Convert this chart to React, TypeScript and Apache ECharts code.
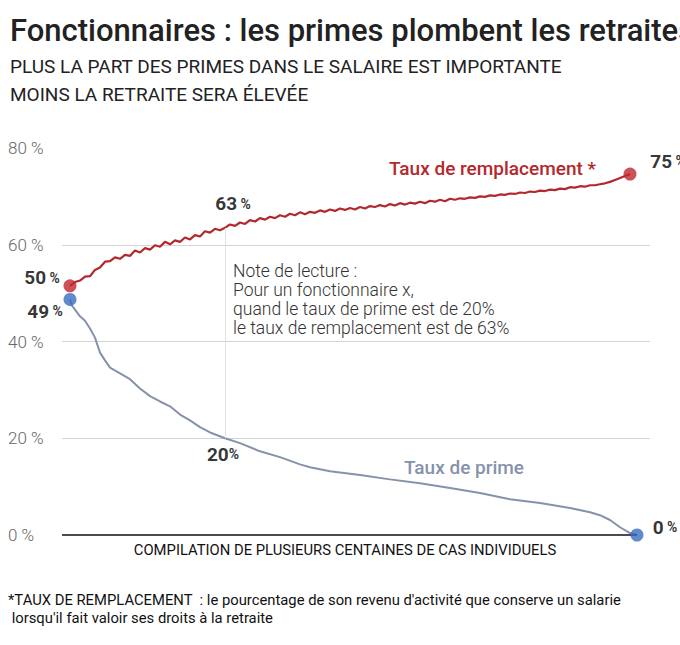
import { useEffect, useRef } from 'react';
import * as echarts from 'echarts';

// taux de remplacement, one sample every step of the x axis (noisy line)
const replacementRate = [
  51.5, 52.3, 52.6, 53.4, 53.5, 54.8, 55.3, 56.5, 56.6, 57.4, 57.1, 57.9, 57.7, 58.8, 58.4, 59.3,
  59.0, 59.9, 59.6, 60.6, 60.1, 60.9, 60.6, 61.5, 61.1, 62.0, 61.7, 62.8, 62.5, 63.3, 63.0, 63.5,
  64.2, 63.9, 64.6, 64.3, 65.1, 64.8, 65.5, 65.2, 65.8, 65.5, 66.1, 65.8, 66.4, 66.1, 66.7, 66.3,
  66.8, 66.6, 67.1, 66.8, 67.3, 67.0, 67.5, 67.2, 67.6, 67.3, 67.8, 67.5, 68.0, 67.8, 68.2, 67.9,
  68.4, 68.1, 68.6, 68.3, 68.7, 68.5, 68.9, 68.6, 69.1, 68.9, 69.3, 69.0, 69.5, 69.3, 69.6, 69.5,
  69.8, 69.7, 70.0, 69.9, 70.2, 70.1, 70.4, 70.3, 70.6, 70.5, 70.8, 70.7, 71.0, 70.9, 71.2, 71.1,
  71.4, 71.3, 71.6, 71.5, 71.9, 71.8, 72.1, 72.0, 72.3, 72.3, 72.5, 72.7, 73.0, 73.4, 73.8, 74.2,
  74.6,
];

// taux de prime (smooth line)
const primeX = [
  0, 0.4, 2, 3, 4, 5, 6, 7, 8, 10, 12, 14, 16, 18, 20, 22, 24, 26, 28, 31, 34, 38, 42, 46, 48, 52,
  58, 64, 70, 76, 82, 88, 94, 100, 104, 106, 108, 110, 112, 113.4,
];
const primeRate = [
  48.7, 47.4, 45.2, 44.3, 42.7, 40.8, 37.7, 36.1, 34.6, 33.4, 32.2, 30.3, 28.7, 27.6, 26.6, 24.9,
  23.7, 22.3, 21.2, 20.0, 19.0, 17.3, 16.1, 14.6, 14.0, 13.2, 12.4, 11.5, 10.7, 9.7, 8.7, 7.4, 6.6,
  5.6, 4.7, 4.1, 3.1, 1.6, 0.4, 0,
];

// values printed next to the marks
const startLabels = [50, 49];
const endLabels = [75, 0];
const readingLabels = [63, 20];

const yTicks = [0, 20, 40, 60, 80];
const readingX = 31; // "note de lecture" case

const title = 'Fonctionnaires : les primes plombent les retraites';
const subtitle = ['PLUS LA PART DES PRIMES DANS LE SALAIRE EST IMPORTANTE', 'MOINS LA RETRAITE SERA ÉLEVÉE'];
const note = [
  'Note de lecture :',
  'Pour un fonctionnaire x,',
  'quand le taux de prime est de 20%',
  'le taux de remplacement est de 63%',
];
const xName = 'COMPILATION DE PLUSIEURS CENTAINES DE CAS INDIVIDUELS';
const footnote = [
  "*TAUX DE REMPLACEMENT  : le pourcentage de son revenu d'activité que conserve un salarie",
  " lorsqu'il fait valoir ses droits à la retraite",
];

const RED = '#b3282d';
const RED_DOT = '#c1272d';
const BLUE_LINE = '#8692ab';
const BLUE_DOT = '#3a6dbf';
const FONT = 'Roboto, "Noto Sans", sans-serif';

const rich = {
  n: { fontSize: 19, fontWeight: 'bold', color: '#000', fontFamily: FONT },
  p: { fontSize: 14, fontWeight: 'bold', color: '#000', fontFamily: FONT },
};

const pct = (v: number, space = true) => `{n|${v}}${space ? ' ' : ''}{p|%}`;

export default function App() {
  const chartRef = useRef<HTMLDivElement>(null);

  useEffect(() => {
    if (!chartRef.current) return;
    const chart = echarts.init(chartRef.current, null, { renderer: 'svg' });

    const redData = replacementRate.map((v, i) => [i, v]);
    const blueData = primeX.map((x, i) => [x, primeRate[i]]);
    const redFirst = redData[0];
    const redLast = redData[redData.length - 1];
    const blueFirst = blueData[0];
    const blueLast = blueData[blueData.length - 1];
    const primeAtReading = primeRate[primeX.indexOf(readingX)];
    const labelBase = { show: true, position: 'inside', align: 'center', verticalAlign: 'middle', rich };

    const option = {
      animation: false,
      grid: { left: 62, right: 30, top: 148, bottom: 110 },
      xAxis: {
        type: 'value',
        min: -1.6,
        max: 116,
        axisLine: { show: false },
        axisTick: { show: false },
        axisLabel: { show: false },
        splitLine: { show: false },
      },
      yAxis: {
        type: 'value',
        min: yTicks[0],
        max: yTicks[yTicks.length - 1],
        interval: 20,
        axisLine: { show: false },
        axisTick: { show: false },
        axisLabel: {
          formatter: '{value} %',
          align: 'left',
          margin: 54,
          color: '#666',
          fontSize: 17,
          fontWeight: 300,
          fontFamily: FONT,
        },
        splitLine: {
          show: true,
          showMinLine: false,
          showMaxLine: false,
          lineStyle: { color: '#d4d4d4', width: 1 },
        },
      },
      graphic: [
        {
          type: 'text',
          x: 10,
          y: 30,
          style: { text: title, fontSize: 31, fontWeight: 500, fontFamily: FONT, fill: '#222', verticalAlign: 'middle' },
        },
        ...subtitle.map((t, i) => ({
          type: 'text',
          x: 10,
          y: 66 + i * 28,
          style: { text: t, fontSize: 19, fontFamily: FONT, fill: '#222', verticalAlign: 'middle' },
        })),
        {
          type: 'text',
          x: 233,
          y: 261,
          style: {
            text: note.join('\n'),
            fontSize: 17.5,
            lineHeight: 19,
            fontWeight: 300,
            fontFamily: FONT,
            fill: '#333',
            verticalAlign: 'top',
          },
        },
        {
          type: 'text',
          x: 389,
          y: 168,
          style: { text: 'Taux de remplacement *', fontSize: 19, fontWeight: 500, fontFamily: FONT, fill: RED, verticalAlign: 'middle' },
        },
        {
          type: 'text',
          x: 404,
          y: 467,
          style: { text: 'Taux de prime', fontSize: 19, fontWeight: 500, fontFamily: FONT, fill: BLUE_LINE, verticalAlign: 'middle' },
        },
        {
          type: 'text',
          x: 345,
          y: 550,
          style: { text: xName, fontSize: 14.8, fontFamily: FONT, fill: '#111', align: 'center', verticalAlign: 'middle' },
        },
        ...footnote.map((t, i) => ({
          type: 'text',
          x: 8,
          y: 600 + i * 18,
          style: { text: t, fontSize: 14.8, fontFamily: FONT, fill: '#111', verticalAlign: 'middle' },
        })),
      ],
      series: [
        {
          name: 'Taux de prime',
          type: 'line',
          data: blueData,
          showSymbol: false,
          lineStyle: { color: BLUE_LINE, width: 2 },
          z: 2,
          markLine: {
            silent: true,
            symbol: 'none',
            label: { show: false },
            data: [
              [
                { coord: [-1.6, 0], lineStyle: { color: '#111', width: 1.5, type: 'solid' } },
                { coord: [blueLast[0], 0] },
              ],
              [
                { coord: [readingX, primeAtReading], lineStyle: { color: '#e2e2e2', width: 1, type: 'solid' } },
                { coord: [readingX, replacementRate[readingX]] },
              ],
            ],
          },
        },
        {
          name: 'Taux de remplacement',
          type: 'line',
          data: redData,
          showSymbol: false,
          lineStyle: { color: RED, width: 2.2 },
          z: 3,
        },
        {
          type: 'scatter',
          symbolSize: 13,
          itemStyle: { color: RED_DOT },
          z: 5,
          data: [
            { value: redFirst, label: { ...labelBase, formatter: pct(startLabels[0]), offset: [-28, -8] } },
            { value: redLast, label: { ...labelBase, formatter: pct(endLabels[0]), offset: [38, -13] } },
          ],
        },
        {
          type: 'scatter',
          symbolSize: 13,
          itemStyle: { color: BLUE_DOT },
          z: 5,
          data: [
            { value: blueFirst, label: { ...labelBase, formatter: pct(startLabels[1]), offset: [-25, 12] } },
            { value: blueLast, label: { ...labelBase, formatter: pct(endLabels[1]), offset: [28, -8] } },
          ],
        },
        {
          type: 'scatter',
          symbolSize: 1,
          itemStyle: { color: 'transparent' },
          z: 6,
          data: [
            {
              value: [readingX, replacementRate[readingX]],
              label: { ...labelBase, formatter: pct(readingLabels[0]), offset: [8, -24] },
            },
            {
              value: [readingX, primeAtReading],
              label: { ...labelBase, formatter: pct(readingLabels[1], false), offset: [-2, 16] },
            },
          ],
        },
      ],
    };

    chart.setOption(option as any);

    return () => {
      chart.dispose();
    };
  }, []);

  return (
    <div
      ref={chartRef}
      style={{ position: 'fixed', left: 0, top: 0, width: 680, height: 645, background: '#fff' }}
    />
  );
}
